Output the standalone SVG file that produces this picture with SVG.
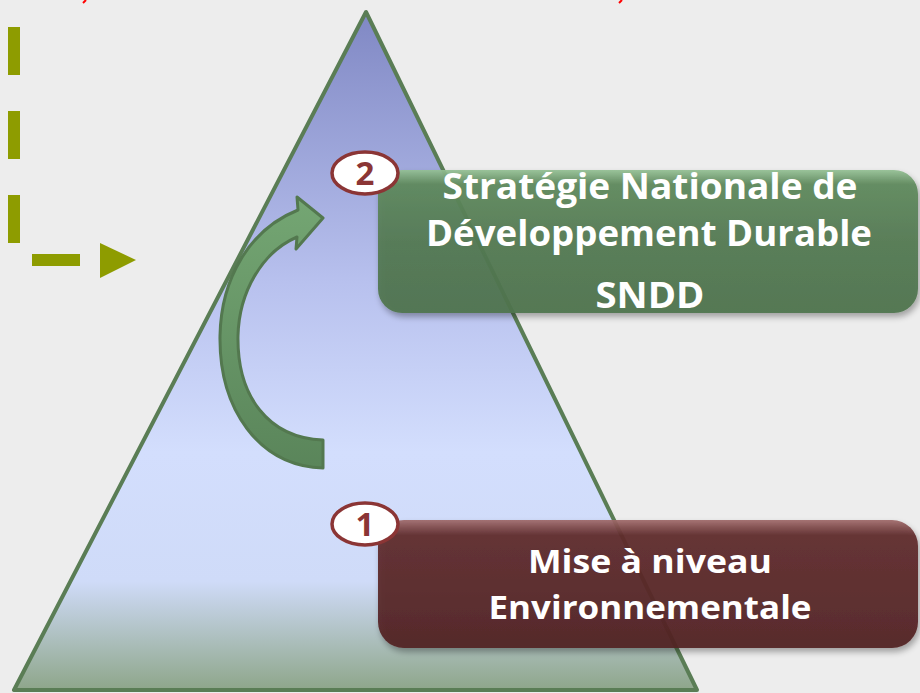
<svg xmlns="http://www.w3.org/2000/svg" width="920" height="693" viewBox="0 0 920 693">
<defs>
<linearGradient id="triG" x1="0" y1="0" x2="0" y2="1">
<stop offset="0" stop-color="#8088c4"/>
<stop offset="0.4" stop-color="#b8c1ee"/>
<stop offset="0.65" stop-color="#d3defd"/>
<stop offset="0.84" stop-color="#cfdbf8"/>
<stop offset="1" stop-color="#8ea68a"/>
</linearGradient>
<linearGradient id="arrG" x1="0" y1="0" x2="0" y2="1">
<stop offset="0" stop-color="#74a673"/>
<stop offset="1" stop-color="#5a855a"/>
</linearGradient>
<linearGradient id="greenG" x1="0" y1="0" x2="0" y2="1">
<stop offset="0" stop-color="#94c094"/>
<stop offset="0.1" stop-color="#5f8a5d"/>
<stop offset="0.5" stop-color="#547a53"/>
<stop offset="1" stop-color="#4f744e"/>
</linearGradient>
<linearGradient id="redG" x1="0" y1="0" x2="0" y2="1">
<stop offset="0" stop-color="#a06a6a"/>
<stop offset="0.12" stop-color="#602c2d"/>
<stop offset="0.5" stop-color="#5a2829"/>
<stop offset="1" stop-color="#522223"/>
</linearGradient>
<filter id="sh" x="-5%" y="-10%" width="112%" height="125%">
<feGaussianBlur in="SourceAlpha" stdDeviation="3"/>
<feOffset dx="2" dy="4"/>
<feComponentTransfer><feFuncA type="linear" slope="0.35"/></feComponentTransfer>
<feMerge><feMergeNode/><feMergeNode in="SourceGraphic"/></feMerge>
</filter>
</defs>
<style>
.olive{fill:#8e9c00}
.boxtxt{font-family:"Open Sans","Liberation Sans",sans-serif;font-weight:700;fill:#ffffff;text-anchor:middle}
.badge{fill:#ffffff;stroke:#8b3535;stroke-width:3.5}
.badgetxt{font-family:"Open Sans","Liberation Sans",sans-serif;font-weight:700;font-size:33px;fill:#8b3535;text-anchor:middle}
</style>
<rect width="920" height="693" fill="#ededed"/>
<g id="red-marks" stroke="#ff0000" stroke-width="2">
<line x1="83" y1="3" x2="86" y2="0"/>
<line x1="619" y1="3" x2="622" y2="0"/>
</g>
<g id="pyramid">
<polygon points="366,12 14,690 697,690" fill="url(#triG)" stroke="#5a7d55" stroke-width="4" stroke-linejoin="round"/>
</g>
<g id="connectors">
<g id="dashed-arrow" class="olive">
<rect x="8" y="27" width="12" height="48"/>
<rect x="8" y="111" width="12" height="48"/>
<rect x="8" y="195" width="12" height="48"/>
<rect x="32" y="254" width="48" height="12"/>
<polygon points="100,243 136,260 100,278"/>
</g>
<g id="curved-arrow">
<path d="M 323 468 C 258 466 219 408 220 336 C 221 278 250 229 298 210 L 297 197 L 323 218 L 296 249 L 297 237 C 262 252 239 292 238 336 C 237 396 268 438 323 440 Z" fill="url(#arrG)" stroke="#53784f" stroke-width="3" stroke-linejoin="round"/>
</g>
</g>
<g id="node-sndd">
<rect x="378" y="170" width="540" height="143" rx="24" fill="url(#greenG)" fill-opacity="0.93" filter="url(#sh)"/>
<text class="boxtxt" x="650" y="199" font-size="35" textLength="415" lengthAdjust="spacingAndGlyphs">Stratégie Nationale de</text>
<text class="boxtxt" x="649" y="246" font-size="35" textLength="446" lengthAdjust="spacingAndGlyphs">Développement Durable</text>
<text class="boxtxt" x="650" y="308" font-size="35" textLength="109" lengthAdjust="spacingAndGlyphs">SNDD</text>
</g>
<g id="badge-2">
<ellipse class="badge" cx="365" cy="173" rx="33" ry="21"/>
<text class="badgetxt" x="365" y="185">2</text>
</g>
<g id="node-mise">
<rect x="378" y="520" width="540" height="128" rx="26" fill="url(#redG)" fill-opacity="0.93" filter="url(#sh)"/>
<text class="boxtxt" x="650" y="573" font-size="33" textLength="244" lengthAdjust="spacingAndGlyphs">Mise à niveau</text>
<text class="boxtxt" x="650" y="619" font-size="33" textLength="323" lengthAdjust="spacingAndGlyphs">Environnementale</text>
</g>
<g id="badge-1">
<ellipse class="badge" cx="365" cy="524" rx="33" ry="21"/>
<text class="badgetxt" x="365" y="536">1</text>
</g>
</svg>
